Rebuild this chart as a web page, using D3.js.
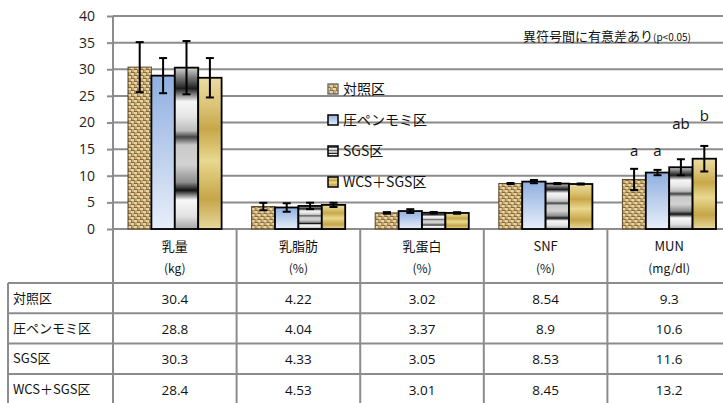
<!DOCTYPE html>
<html>
<head>
<meta charset="utf-8">
<script src="https://cdn.jsdelivr.net/npm/d3@7"></script>
<style>
  body { margin: 0; background: #fff; }
  svg { display: block; font-family: "Noto Sans CJK JP", "Noto Sans", sans-serif; }
</style>
</head>
<body>
<div id="chart"></div>
<script>
"use strict"

// categories (two-line header labels)
const categories = ["乳量", "乳脂肪", "乳蛋白", "SNF", "MUN"];
const units = ["(kg)", "(%)", "(%)", "(%)", "(mg/dl)"];
const groups = ["対照区", "圧ペンモミ区", "SGS区", "WCS＋SGS区"];

// means per group, in category order
const control = [30.4, 4.22, 3.02, 8.54, 9.3];
const pressed = [28.8, 4.04, 3.37, 8.9, 10.6];
const sgs = [30.3, 4.33, 3.05, 8.53, 11.6];
const wcsSgs = [28.4, 4.53, 3.01, 8.45, 13.2];

// standard deviations
const controlSd = [4.7, 0.7, 0.15, 0.1, 2.0];
const pressedSd = [3.3, 0.8, 0.35, 0.3, 0.5];
const sgsSd = [5.0, 0.6, 0.15, 0.1, 1.5];
const wcsSgsSd = [3.7, 0.4, 0.15, 0.1, 2.4];

// significance letters on MUN
const letters = ["a", "a", "ab", "b"];
const letterLevels = [13.7, 13.7, 18.8, 20.3];

const yTicks = [0, 5, 10, 15, 20, 25, 30, 35, 40];
const note = "異符号間に有意差あり";
const noteSmall = "(p<0.05)";

const means = [control, pressed, sgs, wcsSgs];
const sds = [controlSd, pressedSd, sgsSd, wcsSgsSd];

const width = 723, height = 403;
const gridColor = "#8c8c8c";

const svg = d3.select("#chart").append("svg")
    .attr("width", width)
    .attr("height", height);

const defs = svg.append("defs");

// burlap texture for the control group
let burlap = defs.append("pattern")
    .attr("id", "burlap")
    .attr("patternUnits", "userSpaceOnUse")
    .attr("width", 6)
    .attr("height", 6);
burlap.append("rect").attr("width", 6).attr("height", 6).attr("fill", "#c6aa74");
burlap.append("rect").attr("x", 0).attr("y", 0).attr("width", 3).attr("height", 1).attr("fill", "#86663a");
burlap.append("rect").attr("x", 3).attr("y", 3).attr("width", 3).attr("height", 1).attr("fill", "#86663a");
burlap.append("rect").attr("x", 0).attr("y", 1).attr("width", 3).attr("height", 2).attr("fill", "#e7d6a6");
burlap.append("rect").attr("x", 3).attr("y", 4).attr("width", 3).attr("height", 2).attr("fill", "#e7d6a6");
burlap.append("rect").attr("x", 3).attr("y", 0).attr("width", 1).attr("height", 3).attr("fill", "#a0804a");
burlap.append("rect").attr("x", 0).attr("y", 3).attr("width", 1).attr("height", 3).attr("fill", "#a0804a");

function addGradient(id, stops) {
    let g = defs.append("linearGradient")
        .attr("id", id)
        .attr("x1", "0%").attr("y1", "0%")
        .attr("x2", "0%").attr("y2", "100%");
    for (let s of stops) {
        g.append("stop").attr("offset", s[0]).attr("stop-color", s[1]);
    }
}

addGradient("blueGrad", [[0, "#8fafe0"], [1, "#e8eef9"]]);
addGradient("chromeGrad", [
    [0, "#d4d4d4"], [0.06, "#7a7a7a"], [0.13, "#1e1e1e"], [0.21, "#f6f6f6"],
    [0.3, "#e6e6e6"], [0.39, "#bdbdbd"], [0.43, "#444"], [0.48, "#c9c9c9"],
    [0.6, "#d2d2d2"], [0.71, "#8e8e8e"], [0.76, "#121212"], [0.82, "#f8f8f8"],
    [0.92, "#e2e2e2"], [1, "#a5a5a5"]
]);
addGradient("goldGrad", [
    [0, "#ecdca4"], [0.18, "#dcc478"], [0.34, "#c8a74a"], [0.55, "#e9d88e"],
    [0.8, "#c5a548"], [1, "#e8d89e"]
]);

const fills = ["url(#burlap)", "url(#blueGrad)", "url(#chromeGrad)", "url(#goldGrad)"];
const strokes = ["#5a4a30", "#000", "#000", "#000"];

// scales
const x0 = d3.scaleBand()
    .domain(categories)
    .range([113, 113 + 5 * 123.6]);

const x1 = d3.scaleBand()
    .domain(d3.range(groups.length))
    .range([15, x0.bandwidth() - 15]);

const y = d3.scaleLinear()
    .domain([0, 40])
    .range([229, 16]);

// gridlines + y axis
let yAxis = svg.append("g")
    .attr("transform", "translate(113,0)")
    .call(d3.axisLeft(y).tickValues(yTicks).tickSize(6).tickPadding(12).tickFormat(d3.format("d")));
yAxis.select(".domain").remove();
yAxis.selectAll("line").attr("stroke", gridColor).attr("stroke-width", 2);
yAxis.selectAll("text")
    .attr("fill", "#222")
    .style("font-size", "14px")
    .style("font-family", "'Open Sans', sans-serif");

svg.append("g")
    .selectAll("line")
    .data(yTicks)
    .join("line")
    .attr("x1", 113)
    .attr("x2", width)
    .attr("y1", d => y(d))
    .attr("y2", d => y(d))
    .attr("stroke", gridColor)
    .attr("stroke-width", 2);

// left axis line runs down through the table
svg.append("line")
    .attr("x1", 113).attr("x2", 113)
    .attr("y1", y(40)).attr("y2", height)
    .attr("stroke", gridColor)
    .attr("stroke-width", 2);

// bars
let barGroups = svg.append("g")
    .selectAll("g")
    .data(categories)
    .join("g")
    .attr("transform", d => "translate(" + x0(d) + ",0)");

barGroups.selectAll("rect")
    .data((c, ci) => groups.map((g, gi) => ({ gi: gi, v: means[gi][ci], sd: sds[gi][ci] })))
    .join("rect")
    .attr("x", d => x1(d.gi))
    .attr("y", d => y(d.v))
    .attr("width", x1.bandwidth())
    .attr("height", d => y(0) - y(d.v))
    .attr("fill", d => fills[d.gi])
    .attr("stroke", d => strokes[d.gi])
    .attr("stroke-width", d => d.gi === 0 ? 1 : 1.8);

// error bars
barGroups.each(function(c, ci) {
    let g = d3.select(this);
    for (let gi = 0; gi < groups.length; gi++) {
        let cx = x1(gi) + x1.bandwidth() / 2;
        let hi = y(means[gi][ci] + sds[gi][ci]);
        let lo = y(means[gi][ci] - sds[gi][ci]);
        g.append("line").attr("x1", cx).attr("x2", cx).attr("y1", hi).attr("y2", lo)
            .attr("stroke", "#000").attr("stroke-width", 2);
        g.append("line").attr("x1", cx - 4).attr("x2", cx + 4).attr("y1", hi).attr("y2", hi)
            .attr("stroke", "#000").attr("stroke-width", 2);
        g.append("line").attr("x1", cx - 4).attr("x2", cx + 4).attr("y1", lo).attr("y2", lo)
            .attr("stroke", "#000").attr("stroke-width", 2);
    }
});

// significance letters above MUN
svg.append("g")
    .selectAll("text")
    .data(letters)
    .join("text")
    .attr("x", (d, i) => x0("MUN") + x1(i) + x1.bandwidth() / 2)
    .attr("y", (d, i) => y(letterLevels[i]))
    .attr("text-anchor", "middle")
    .style("font-size", "15px")
    .style("font-family", "'Open Sans', sans-serif")
    .attr("fill", "#111")
    .text(d => d);

// note
let noteText = svg.append("text")
    .attr("x", 523)
    .attr("y", 41)
    .attr("fill", "#111")
    .style("font-size", "13px");
noteText.append("tspan").text(note);
noteText.append("tspan").style("font-size", "10px").text(noteSmall);

// legend
let legend = svg.append("g");
groups.forEach((g, i) => {
    let ly = 89 + i * 31;
    legend.append("rect")
        .attr("x", 328).attr("y", ly - 5)
        .attr("width", 10).attr("height", 10)
        .attr("fill", fills[i])
        .attr("stroke", i === 0 ? "#777" : "#000")
        .attr("stroke-width", 1.5);
    legend.append("text")
        .attr("x", 343).attr("y", ly)
        .attr("dy", "0.36em")
        .attr("fill", "#111")
        .style("font-size", "14px")
        .text(g);
});

// data table
const headerTop = 229, headerBottom = 283, rowH = 30.3;
let table = svg.append("g");

// vertical column dividers
categories.forEach(c => {
    table.append("line")
        .attr("x1", x0(c) + x0.bandwidth()).attr("x2", x0(c) + x0.bandwidth())
        .attr("y1", headerTop).attr("y2", height)
        .attr("stroke", gridColor).attr("stroke-width", 2);
});
table.append("line")
    .attr("x1", 8).attr("x2", 8)
    .attr("y1", headerBottom).attr("y2", height)
    .attr("stroke", gridColor).attr("stroke-width", 2);

// horizontal row lines
for (let r = 0; r < groups.length; r++) {
    let ry = headerBottom + r * rowH;
    table.append("line")
        .attr("x1", 8).attr("x2", width)
        .attr("y1", ry).attr("y2", ry)
        .attr("stroke", gridColor).attr("stroke-width", 2);
}

// header texts
categories.forEach((c, ci) => {
    let cx = x0(c) + x0.bandwidth() / 2;
    table.append("text")
        .attr("x", cx).attr("y", 251)
        .attr("text-anchor", "middle")
        .attr("fill", "#111")
        .style("font-size", "13px")
        .text(c);
    table.append("text")
        .attr("x", cx).attr("y", 273)
        .attr("text-anchor", "middle")
        .attr("fill", "#111")
        .style("font-size", "12px")
        .text(units[ci]);
});

// rows
groups.forEach((g, gi) => {
    let cy = headerBottom + gi * rowH + rowH / 2;
    table.append("text")
        .attr("x", 13).attr("y", cy)
        .attr("dy", "0.35em")
        .attr("fill", "#111")
        .style("font-size", "13px")
        .text(g);
    categories.forEach((c, ci) => {
        table.append("text")
            .attr("x", x0(c) + x0.bandwidth() / 2).attr("y", cy + 1)
            .attr("dy", "0.35em")
            .attr("text-anchor", "middle")
            .attr("fill", "#111")
            .style("font-size", "13.5px")
            .style("font-family", "'Open Sans', sans-serif")
            .text(means[gi][ci]);
    });
});
</script>
</body>
</html>
